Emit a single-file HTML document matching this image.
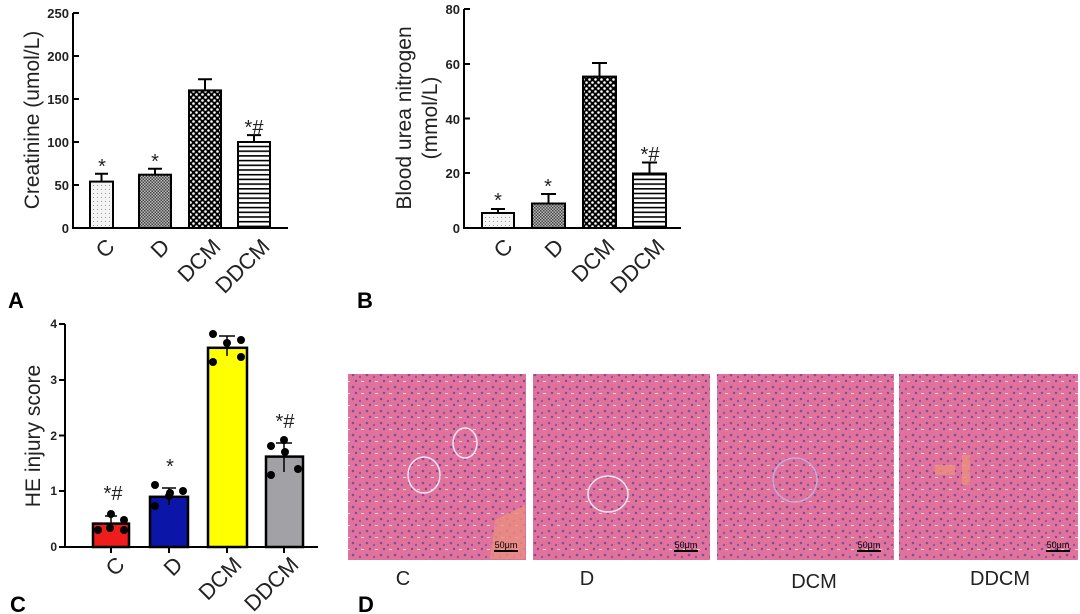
<!DOCTYPE html>
<html><head><meta charset="utf-8"><style>
html,body{margin:0;padding:0;background:#fff;}
svg{display:block;font-family:"Liberation Sans",sans-serif;}
</style></head><body>
<svg width="1080" height="614" viewBox="0 0 1080 614" xmlns="http://www.w3.org/2000/svg">
<defs>
<pattern id="pC" width="4" height="4" patternUnits="userSpaceOnUse"><rect width="4" height="4" fill="#f4f4f4"/><rect x="1" y="1" width="1" height="1" fill="#999"/></pattern>
<pattern id="pD" width="3" height="3" patternUnits="userSpaceOnUse"><rect width="3" height="3" fill="#bbb"/><rect width="1.5" height="1.5" fill="#444"/><rect x="1.5" y="1.5" width="1.5" height="1.5" fill="#444"/></pattern>
<pattern id="pDCM" width="6" height="6" patternUnits="userSpaceOnUse"><rect width="6" height="6" fill="#000"/><circle cx="1.5" cy="1.5" r="1.3" fill="#fff"/><circle cx="4.5" cy="4.5" r="1.3" fill="#fff"/></pattern>
<pattern id="pDD" width="6" height="4.7" patternUnits="userSpaceOnUse"><rect width="6" height="4.7" fill="#fff"/><rect y="0" width="6" height="1.6" fill="#000"/></pattern>
<pattern id="he" width="14" height="12" patternUnits="userSpaceOnUse">
<rect width="14" height="12" fill="#e0729c"/>
<circle cx="3" cy="3" r="1.3" fill="#7c4f9e"/><circle cx="10" cy="5" r="1.2" fill="#8a55a5"/><circle cx="6" cy="9" r="1.2" fill="#7a4c9c"/>
<rect x="11" y="9" width="3" height="1" fill="#f3d6e4"/>
</pattern>
</defs>

<!-- Panel A -->
<g stroke="#000" stroke-width="2" fill="none">
<line x1="73" y1="13" x2="73" y2="228"/><line x1="72" y1="228" x2="288" y2="228"/>
<line x1="73" y1="13" x2="79" y2="13"/><line x1="73" y1="56" x2="79" y2="56"/><line x1="73" y1="99" x2="79" y2="99"/><line x1="73" y1="142" x2="79" y2="142"/><line x1="73" y1="185" x2="79" y2="185"/>
</g>
<g font-size="13" font-weight="bold" text-anchor="end" fill="#222">
<text x="69" y="18">250</text><text x="69" y="61">200</text><text x="69" y="104">150</text><text x="69" y="147">100</text><text x="69" y="190">50</text><text x="69" y="233">0</text>
</g>
<text transform="translate(39,120) rotate(-90)" text-anchor="middle" font-size="21" fill="#222">Creatinine (umol/L)</text>
<g stroke="#000" stroke-width="2">
<rect x="90" y="181.6" width="23" height="46.4" fill="url(#pC)"/>
<rect x="139" y="174.7" width="32" height="53.3" fill="url(#pD)"/>
<rect x="189" y="90.4" width="32" height="137.6" fill="url(#pDCM)"/>
<rect x="238" y="142" width="32" height="86" fill="url(#pDD)"/>
<path d="M101.5 181.6V173.8M95 173.8H108M155 174.7V168.7M148 168.7H162M205 90.4V79.2M198 79.2H212M254 142V135.1M247 135.1H261" fill="none"/>
</g>
<g font-size="20" fill="#222" text-anchor="middle">
<text x="102" y="173">*</text><text x="155" y="168">*</text><text x="254" y="134">*#</text>
</g>
<g font-size="22" fill="#222" text-anchor="end">
<text transform="translate(116,248) rotate(-45)">C</text>
<text transform="translate(171,248) rotate(-45)">D</text>
<text transform="translate(222,248) rotate(-45)">DCM</text>
<text transform="translate(271,248) rotate(-45)">DDCM</text>
</g>
<text x="8" y="308" font-size="22" font-weight="bold">A</text>

<!-- Panel B -->
<g stroke="#000" stroke-width="2" fill="none">
<line x1="464" y1="9" x2="464" y2="228"/><line x1="463" y1="228" x2="681" y2="228"/>
<line x1="464" y1="9" x2="470" y2="9"/><line x1="464" y1="64" x2="470" y2="64"/><line x1="464" y1="118.5" x2="470" y2="118.5"/><line x1="464" y1="173" x2="470" y2="173"/>
</g>
<g font-size="13" font-weight="bold" text-anchor="end" fill="#222">
<text x="460" y="14">80</text><text x="460" y="69">60</text><text x="460" y="124">40</text><text x="460" y="178">20</text><text x="460" y="233">0</text>
</g>
<text transform="translate(411,118) rotate(-90)" text-anchor="middle" font-size="21" fill="#222">Blood urea nitrogen</text>
<text transform="translate(437,118) rotate(-90)" text-anchor="middle" font-size="21" fill="#222">(mmol/L)</text>
<g stroke="#000" stroke-width="2">
<rect x="482" y="213" width="32" height="15" fill="url(#pC)"/>
<rect x="532" y="203.5" width="33" height="24.5" fill="url(#pD)"/>
<rect x="583" y="76.6" width="33" height="151.4" fill="url(#pDCM)"/>
<rect x="633" y="173.5" width="33" height="54.5" fill="url(#pDD)"/>
<path d="M498 213V209M491 209H505M548.5 203.5V194M541 194H556M599.5 76.6V63M592 63H607M649.5 173.5V162.5M642 162.5H657" fill="none"/>
</g>
<g font-size="20" fill="#222" text-anchor="middle">
<text x="498" y="207">*</text><text x="548" y="193">*</text><text x="650" y="161">*#</text>
</g>
<g font-size="22" fill="#222" text-anchor="end">
<text transform="translate(514,248) rotate(-45)">C</text>
<text transform="translate(565,248) rotate(-45)">D</text>
<text transform="translate(616,248) rotate(-45)">DCM</text>
<text transform="translate(666,248) rotate(-45)">DDCM</text>
</g>
<text x="357" y="308" font-size="22" font-weight="bold">B</text>

<!-- Panel C -->
<g stroke="#000" stroke-width="2" fill="none">
<line x1="65" y1="324" x2="65" y2="547"/><line x1="64" y1="547" x2="318" y2="547"/>
<line x1="59" y1="324" x2="65" y2="324"/><line x1="59" y1="380" x2="65" y2="380"/><line x1="59" y1="435.5" x2="65" y2="435.5"/><line x1="59" y1="491" x2="65" y2="491"/><line x1="59" y1="547" x2="65" y2="547"/>
<line x1="111" y1="547" x2="111" y2="553"/><line x1="169" y1="547" x2="169" y2="553"/><line x1="227" y1="547" x2="227" y2="553"/><line x1="284" y1="547" x2="284" y2="553"/>
</g>
<g font-size="12" font-weight="bold" text-anchor="end" fill="#222">
<text x="57" y="328">4</text><text x="57" y="384">3</text><text x="57" y="440">2</text><text x="57" y="495">1</text><text x="57" y="551">0</text>
</g>
<text transform="translate(40,436) rotate(-90)" text-anchor="middle" font-size="21" fill="#222">HE injury score</text>
<g stroke="#000" stroke-width="2.5">
<rect x="93" y="523.6" width="36" height="23.4" fill="#ee1c1c"/>
<rect x="150" y="496.8" width="38" height="50.2" fill="#0b16a8"/>
<rect x="208" y="347.8" width="39" height="199.2" fill="#ffff00"/>
<rect x="266" y="456.6" width="37" height="90.4" fill="#a2a2a6"/>
</g>
<g stroke="#000" stroke-width="1.5" fill="none">
<path d="M111 530V516M105 516H117M169 505V488M162 488H176M227 356V336M219 336H235M284 472V443M276 443H292"/>
</g>
<g fill="#000">
<circle cx="98" cy="530" r="4"/><circle cx="111" cy="514" r="4"/><circle cx="124" cy="520" r="4"/><circle cx="110" cy="528" r="4"/><circle cx="124" cy="530" r="4"/>
<circle cx="155" cy="506" r="4"/><circle cx="169" cy="496" r="4"/><circle cx="183" cy="491" r="4"/><circle cx="155" cy="485" r="4"/><circle cx="170" cy="493" r="4"/>
<circle cx="213" cy="334" r="4"/><circle cx="227" cy="343" r="4"/><circle cx="241" cy="340" r="4"/><circle cx="213" cy="362" r="4"/><circle cx="241" cy="357" r="4"/>
<circle cx="271" cy="446" r="4"/><circle cx="284" cy="440" r="4"/><circle cx="298" cy="469" r="4"/><circle cx="271" cy="475" r="4"/><circle cx="285" cy="452" r="4"/>
</g>
<g font-size="20" fill="#222" text-anchor="middle">
<text x="113" y="500">*#</text><text x="170" y="473">*</text><text x="285" y="428">*#</text>
</g>
<g font-size="22" fill="#222" text-anchor="end">
<text transform="translate(126,566) rotate(-45)">C</text>
<text transform="translate(184,566) rotate(-45)">D</text>
<text transform="translate(243,566) rotate(-45)">DCM</text>
<text transform="translate(300,566) rotate(-45)">DDCM</text>
</g>
<text x="10" y="612" font-size="22" font-weight="bold">C</text>

<!-- Panel D -->
<g>
<rect x="348" y="374" width="178" height="186" fill="url(#he)"/>
<rect x="533" y="374" width="177" height="186" fill="url(#he)"/>
<rect x="717" y="374" width="177" height="186" fill="url(#he)"/>
<rect x="899" y="374" width="179" height="186" fill="url(#he)"/>
<g fill="none" stroke="#f3e6f0" stroke-width="1.5">
<ellipse cx="424" cy="475" rx="16" ry="18"/><ellipse cx="465" cy="443" rx="12" ry="15"/>
<ellipse cx="608" cy="494" rx="20" ry="18"/>
<ellipse cx="795" cy="480" rx="22" ry="22" stroke="#c9a8d8"/>
</g>
<g fill="#eb8f7f" opacity="0.8">
<path d="M495 520 L525 505 L525 559 L490 559Z"/>
<rect x="962" y="455" width="8" height="30"/><rect x="935" y="465" width="20" height="10"/>
</g>
<g stroke="#000" stroke-width="2"><line x1="494" y1="551" x2="518" y2="551"/><line x1="674" y1="551" x2="698" y2="551"/><line x1="857" y1="551" x2="881" y2="551"/><line x1="1046" y1="551" x2="1070" y2="551"/></g>
<g font-size="9" fill="#000" text-anchor="middle"><text x="506" y="548">50μm</text><text x="686" y="548">50μm</text><text x="869" y="548">50μm</text><text x="1058" y="548">50μm</text></g>
</g>
<g font-size="20" fill="#222" text-anchor="middle">
<text x="403" y="585">C</text><text x="587" y="585">D</text><text x="814" y="588">DCM</text><text x="1000" y="585">DDCM</text>
</g>
<text x="358" y="612" font-size="22" font-weight="bold">D</text>
</svg>
</body></html>
